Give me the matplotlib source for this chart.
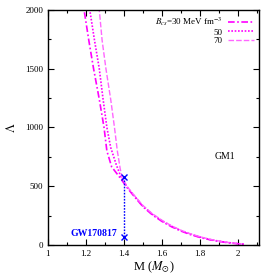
"""
Tidal deformability vs mass for GM1 hybrid stars, three bag constants.
"""
import matplotlib
matplotlib.use("Agg")
import matplotlib.pyplot as plt
from matplotlib.ticker import MultipleLocator

plt.rcParams["font.family"] = ["Liberation Serif", "DejaVu Serif"]
plt.rcParams["mathtext.fontset"] = "stix"

# B = 30 MeV fm^-3 (dash-dot)
m_30 = [1.18, 1.19, 1.215, 1.24, 1.27, 1.295, 1.31, 1.335, 1.38, 1.42, 1.45, 1.5,
        1.55, 1.6, 1.65, 1.7, 1.75, 1.8, 1.85, 1.9, 1.95, 2.0, 2.04]
lam_30 = [2150, 2000, 1740, 1500, 1240, 1000, 800, 665, 570, 480, 420, 325,
          255, 200, 155, 118, 88, 64, 45, 30, 18, 10, 5]

# B = 50 MeV fm^-3 (dotted)
m_50 = [1.21, 1.22, 1.245, 1.27, 1.29, 1.31, 1.33, 1.36, 1.385, 1.42, 1.45, 1.5,
        1.55, 1.6, 1.65, 1.7, 1.75, 1.8, 1.85, 1.9, 1.95, 2.0, 2.03]
lam_50 = [2150, 2000, 1740, 1500, 1240, 1000, 830, 680, 575, 485, 425, 330,
          260, 205, 160, 122, 92, 67, 47, 32, 20, 11, 7]

# B = 70 MeV fm^-3 (dashed)
m_70 = [1.265, 1.27, 1.285, 1.305, 1.33, 1.35, 1.365, 1.38, 1.39, 1.42, 1.45, 1.5,
        1.55, 1.6, 1.65, 1.7, 1.75, 1.8, 1.85, 1.9, 1.95, 2.0, 2.02]
lam_70 = [2150, 2000, 1740, 1500, 1240, 1000, 800, 650, 570, 490, 430, 335,
          265, 210, 163, 125, 95, 70, 49, 34, 21, 12, 8]

gw_m = [1.4, 1.4]
gw_lam = [580, 70]

fig = plt.figure(figsize=(2.74, 2.74), dpi=100)
ax = fig.add_axes([0.175, 0.106, 0.77, 0.858])

ax.plot(m_30, lam_30, color="#ff00ff", lw=1.2, ls=(0, (4, 1.5, 1, 1.5)),
        label=r"$B_{cs}$=30 MeV fm$^{-3}$")
ax.plot(m_50, lam_50, color="#ff00ff", lw=1.2, ls=(0, (1, 1)), label="50")
ax.plot(m_70, lam_70, color="#ff66ff", lw=1.0, ls=(0, (4, 1.5)), label="70")

ax.plot(gw_m, gw_lam, color="#0000ff", lw=1.0, ls=(0, (1.2, 1)),
        marker="x", ms=4, mew=1.0)
ax.text(1.365, 95, "GW170817", color="#0000ff", fontweight="bold",
        fontsize=7, ha="right", va="center")
ax.text(1.93, 750, "GM1", fontsize=7, ha="center", va="center")

ax.set_xlim(1, 2.11)
ax.set_ylim(0, 2000)
ax.xaxis.set_major_locator(MultipleLocator(0.2))
ax.xaxis.set_minor_locator(MultipleLocator(0.1))
ax.yaxis.set_major_locator(MultipleLocator(500))
ax.yaxis.set_minor_locator(MultipleLocator(250))
ax.set_xticks([1, 1.2, 1.4, 1.6, 1.8, 2])
ax.set_xticklabels(["1", "1.2", "1.4", "1.6", "1.8", "2"])
ax.tick_params(which="both", direction="in", top=True, right=True, labelsize=6.5)
ax.tick_params(which="major", length=4, width=0.8)
ax.tick_params(which="minor", length=2.5, width=0.8)
for s in ax.spines.values():
    s.set_linewidth(1.0)

ax.set_xlabel(r"M ($M_{\odot}$)", fontsize=9, labelpad=1)
ax.set_ylabel(r"$\Lambda$", fontsize=9)
ax.yaxis.set_label_coords(-0.14, 0.5)

ax.legend(loc="upper right", frameon=False, markerfirst=False, fontsize=6.5,
          handlelength=2.8, handletextpad=0.6, labelspacing=0.05,
          borderaxespad=0.2)
for t in ax.get_legend().get_texts():
    t.set_ha("right")
ax.get_legend()._legend_box.align = "right"

fig.savefig("out.png", dpi=100)
